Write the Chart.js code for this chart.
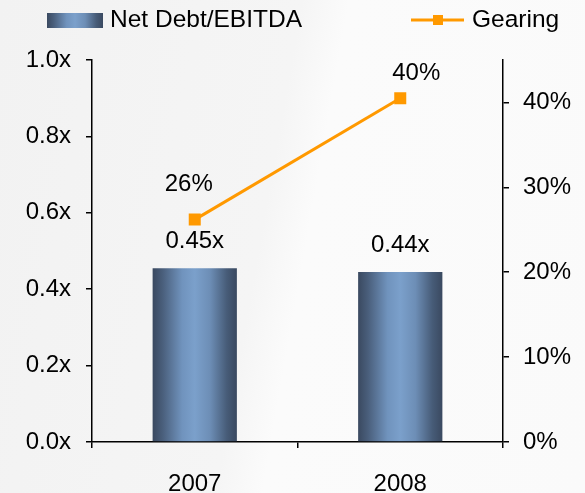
<!DOCTYPE html>
<html>
<head>
<meta charset="utf-8">
<script src="https://cdn.jsdelivr.net/npm/chart.js@4.4.1/dist/chart.umd.min.js"></script>
<style>
  html, body { margin: 0; padding: 0; }
  body {
    width: 585px; height: 493px; overflow: hidden;
    background: linear-gradient(100deg, #f2f2f2 0%, #f5f5f5 45%, #fbfbfb 52%, #fafafa 100%);
  }
  #wrap { width: 585px; height: 493px; }
</style>
</head>
<body>
<div id="wrap"><canvas id="myChart" width="585" height="493"></canvas></div>
<script>
// data
const years = ['2007', '2008'];
const netDebtEbitda = [0.455, 0.445];
const netDebtLabels = ['0.45x', '0.44x'];
const gearing = [26.2, 40.5];
const gearingLabels = ['26%', '40%'];

const FONT = "'Liberation Sans', Arial, sans-serif";
const ORANGE = '#FF9900';
const BAR_PCT = 0.41;

function barGradient(c, left, width) {
  const g = c.createLinearGradient(left, 0, left + width, 0);
  g.addColorStop(0, '#3a4960');
  g.addColorStop(0.12, '#4a5f7c');
  g.addColorStop(0.35, '#7093bd');
  g.addColorStop(0.5, '#7ba0cb');
  g.addColorStop(0.68, '#6d8eb6');
  g.addColorStop(0.88, '#475c78');
  g.addColorStop(1, '#3a4960');
  return g;
}

// shade each bar with its own horizontal gradient
const barShade = {
  id: 'barShade',
  beforeDatasetsDraw(chart) {
    chart.getDatasetMeta(1).data.forEach((el) => {
      el.options.backgroundColor = barGradient(chart.ctx, el.x - el.width / 2, el.width);
    });
  }
};

// legend drawn by hand so it sits where the original has it
const legendPlugin = {
  id: 'handLegend',
  afterDraw(chart) {
    const c = chart.ctx;
    c.save();
    c.font = '24.5px ' + FONT;
    c.textBaseline = 'middle';
    c.fillStyle = barGradient(c, 47, 56);
    c.fillRect(47, 13, 56, 15);
    c.fillStyle = '#000';
    c.fillText(chart.data.datasets[1].label, 110, 20);

    c.strokeStyle = ORANGE;
    c.lineWidth = 3;
    c.beginPath();
    c.moveTo(411, 20);
    c.lineTo(464, 20);
    c.stroke();
    c.fillStyle = ORANGE;
    c.fillRect(433, 15, 10, 10);
    c.fillStyle = '#000';
    c.fillText(chart.data.datasets[0].label, 472, 20);
    c.restore();
  }
};

// label nudges, as placed in the original
const lineLabelShift = [[-6, -35], [16, -25]];

const valueLabels = {
  id: 'valueLabels',
  afterDatasetsDraw(chart) {
    const c = chart.ctx;
    c.save();
    c.font = '24px ' + FONT;
    c.fillStyle = '#000';
    c.textAlign = 'center';
    c.textBaseline = 'middle';
    chart.getDatasetMeta(1).data.forEach((el, i) => {
      c.fillText(netDebtLabels[i], el.x, el.y - 27);
    });
    chart.getDatasetMeta(0).data.forEach((el, i) => {
      c.fillText(gearingLabels[i], el.x + lineLabelShift[i][0], el.y + lineLabelShift[i][1]);
    });
    c.restore();
  }
};

const ctx = document.getElementById('myChart');
const myChart = new Chart(ctx, {
  data: {
    labels: years,
    datasets: [{
      type: 'line',
      label: 'Gearing',
      data: gearing,
      yAxisID: 'y1',
      borderColor: ORANGE,
      backgroundColor: ORANGE,
      borderWidth: 3,
      pointStyle: 'rect',
      pointRadius: 8.5,
      pointBorderWidth: 0,
      order: 0
    }, {
      type: 'bar',
      label: 'Net Debt/EBITDA',
      data: netDebtEbitda,
      yAxisID: 'y',
      barPercentage: BAR_PCT,
      categoryPercentage: 1,
      backgroundColor: (context) => '#6a8ab5',
      order: 1
    }]
  },
  options: {
    responsive: false,
    animation: false,
    layout: { padding: { top: 60, left: 0, right: 0, bottom: 0 } },
    plugins: {
      legend: { display: false },
      tooltip: { enabled: false }
    },
    scales: {
      x: {
        offset: true,
        grid: { offset: true, drawOnChartArea: false, color: '#000', lineWidth: 1.5, tickLength: 6 },
        border: { color: '#000', width: 1.5 },
        ticks: { color: '#000', font: { family: FONT, size: 24 }, padding: 22 },
        afterFit: (s) => { s.height = 51; }
      },
      y: {
        position: 'left',
        min: 0, max: 1,
        grid: { drawOnChartArea: false, color: '#000', lineWidth: 1.5, tickLength: 6 },
        border: { color: '#000', width: 1.5 },
        ticks: {
          stepSize: 0.2, color: '#000', padding: 15,
          font: { family: FONT, size: 24 },
          callback: (v) => v.toFixed(1) + 'x'
        },
        afterFit: (s) => { s.width = 92; }
      },
      y1: {
        position: 'right',
        min: 0, max: 45,
        grid: { drawOnChartArea: false, color: '#000', lineWidth: 1.5, tickLength: 6 },
        border: { color: '#000', width: 1.5 },
        ticks: {
          stepSize: 10, color: '#000', padding: 14,
          font: { family: FONT, size: 24 },
          callback: (v) => v + '%'
        },
        afterBuildTicks: (s) => { s.ticks = s.ticks.filter(t => t.value % 10 === 0); },
        afterFit: (s) => { s.width = 82; }
      }
    }
  },
  plugins: [barShade, legendPlugin, valueLabels]
});
</script>
</body>
</html>
